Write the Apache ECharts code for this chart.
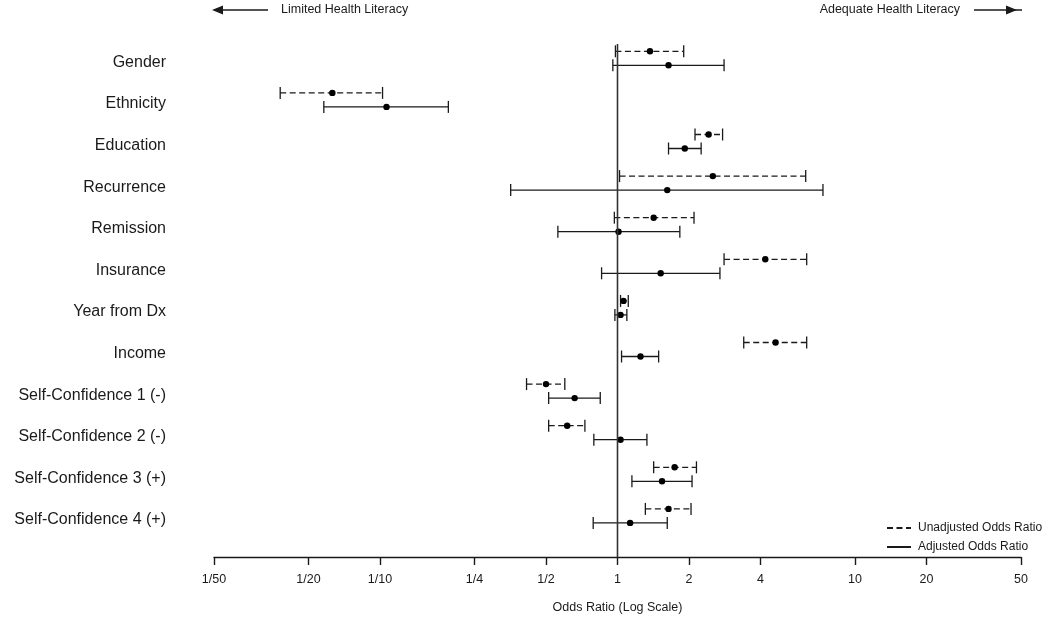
<!DOCTYPE html>
<html>
<head>
<meta charset="utf-8">
<script src="https://cdn.jsdelivr.net/npm/echarts@6/dist/echarts.min.js"></script>
<style>
html,body{margin:0;padding:0;background:#fff;}
#chart{width:1050px;height:619px;}
</style>
</head>
<body>
<div id="chart"></div>
<script>
const categories = ['Gender','Ethnicity','Education','Recurrence','Remission','Insurance','Year from Dx','Income','Self-Confidence 1 (-)','Self-Confidence 2 (-)','Self-Confidence 3 (+)','Self-Confidence 4 (+)'];

const unadjOR = [1.37, 0.063, 2.42, 2.52, 1.42, 4.19, 1.06, 4.63, 0.50, 0.614, 1.74, 1.64];
const unadjLo = [0.98, 0.038, 2.12, 1.02, 0.97, 2.81, 1.03, 3.40, 0.414, 0.513, 1.42, 1.31];
const unadjHi = [1.90, 0.1025, 2.77, 6.2, 2.10, 6.26, 1.11, 6.26, 0.60, 0.729, 2.15, 2.04];

const adjOR = [1.64, 0.1065, 1.92, 1.62, 1.01, 1.52, 1.03, 1.25, 0.66, 1.03, 1.54, 1.13];
const adjLo = [0.956, 0.058, 1.64, 0.355, 0.561, 0.857, 0.975, 1.04, 0.513, 0.795, 1.15, 0.79];
const adjHi = [2.81, 0.194, 2.25, 7.33, 1.83, 2.70, 1.095, 1.49, 0.846, 1.33, 2.06, 1.62];

const tickValues = [1/50, 1/20, 1/10, 1/4, 1/2, 1, 2, 4, 10, 20, 50];
const tickLabels = ['1/50','1/20','1/10','1/4','1/2','1','2','4','10','20','50'];

const ln = Math.log;
const INK = '#1a1a1a';
const NARROW = "'Liberation Sans Narrow','Arial Narrow','Liberation Sans',Arial,sans-serif";
const SANS = "'Liberation Sans',Arial,sans-serif";
const DASH = [6, 3.5];

function makeData(lo, or, hi) {
  return categories.map((c, i) => [ln(lo[i]), ln(or[i]), i, ln(hi[i])]);
}

function makeRender(dashed, dy) {
  return function (params, api) {
    const y = api.value(2);
    const a = api.coord([api.value(0), y]);
    const p = api.coord([api.value(1), y]);
    const b = api.coord([api.value(3), y]);
    const yy = a[1] + dy;
    const cap = 6;
    const lw = 1.3;
    return {
      type: 'group',
      children: [
        { type: 'line', shape: { x1: a[0], y1: yy, x2: b[0], y2: yy },
          style: { stroke: INK, lineWidth: lw, lineDash: dashed ? DASH : null } },
        { type: 'line', shape: { x1: a[0], y1: yy - cap, x2: a[0], y2: yy + cap },
          style: { stroke: INK, lineWidth: lw } },
        { type: 'line', shape: { x1: b[0], y1: yy - cap, x2: b[0], y2: yy + cap },
          style: { stroke: INK, lineWidth: lw } },
        { type: 'circle', shape: { cx: p[0], cy: yy, r: 3.2 },
          style: { fill: '#000' } }
      ]
    };
  };
}

const chart = echarts.init(document.getElementById('chart'), null, { renderer: 'canvas' });

const option = {
  animation: false,
  backgroundColor: '#fff',
  grid: { left: 214, right: 29, top: 16.2, bottom: 56, containLabel: false },
  xAxis: {
    type: 'value',
    min: ln(1/50),
    max: ln(50),
    position: 'bottom',
    axisLine: { onZero: false, lineStyle: { color: INK, width: 1.4 } },
    axisTick: { show: true, length: 8, inside: false, customValues: tickValues.map(ln),
      lineStyle: { color: INK, width: 1.4 } },
    axisLabel: {
      customValues: tickValues.map(ln),
      margin: 16,
      color: INK,
      fontSize: 12.5,
      fontFamily: NARROW,
      formatter: function (v) {
        let best = 0, bd = Infinity;
        tickValues.forEach((t, i) => { const d = Math.abs(ln(t) - v); if (d < bd) { bd = d; best = i; } });
        return tickLabels[best];
      }
    },
    splitLine: { show: false },
    name: 'Odds Ratio (Log Scale)',
    nameLocation: 'middle',
    nameGap: 44,
    nameTextStyle: { color: INK, fontSize: 12.5, fontFamily: NARROW }
  },
  yAxis: {
    type: 'value',
    inverse: true,
    min: -1,
    max: 12,
    interval: 1,
    axisLine: { show: false },
    axisTick: { show: false },
    splitLine: { show: false },
    axisLabel: {
      margin: 48,
      color: INK,
      fontSize: 16,
      fontFamily: SANS,
      formatter: function (v) { return categories[v] ? '{l|' + categories[v] + '}' : ''; },
      rich: {
        l: { fontSize: 16, fontFamily: SANS, color: INK, padding: [9, 0, 0, 0] }
      }
    }
  },
  legend: {
    orient: 'vertical',
    left: 881,
    top: 517,
    itemWidth: 24,
    itemHeight: 10,
    itemGap: 7,
    itemStyle: { opacity: 0 },
    data: ['Unadjusted Odds Ratio', 'Adjusted Odds Ratio'],
    textStyle: { color: INK, fontSize: 12, fontFamily: SANS, padding: [0, 0, 0, 2] }
  },
  series: [
    {
      name: 'Unadjusted Odds Ratio', type: 'line', data: [], symbol: 'none',
      lineStyle: { color: INK, width: 1.3, type: DASH }, itemStyle: { color: INK }
    },
    {
      name: 'Adjusted Odds Ratio', type: 'line', data: [], symbol: 'none',
      lineStyle: { color: INK, width: 1.3, type: 'solid' }, itemStyle: { color: INK }
    },
    {
      name: 'refLine', type: 'line', symbol: 'none', silent: true,
      data: [[0, -0.33], [0, 12]],
      lineStyle: { color: '#333', width: 1.6 }
    },
    {
      name: 'unadj', type: 'custom', renderItem: makeRender(true, -6.5),
      encode: { x: [0, 1, 3], y: 2 },
      data: makeData(unadjLo, unadjOR, unadjHi), z: 3
    },
    {
      name: 'adj', type: 'custom', renderItem: makeRender(false, 7.5),
      encode: { x: [0, 1, 3], y: 2 },
      data: makeData(adjLo, adjOR, adjHi), z: 3
    }
  ],
  graphic: [
    { type: 'line', shape: { x1: 220, y1: 10, x2: 268, y2: 10 }, style: { stroke: INK, lineWidth: 1.4 } },
    { type: 'polygon', shape: { points: [[212, 10], [223, 5.5], [223, 14.5]] }, style: { fill: INK } },
    { type: 'text', left: 281, top: 3, style: { text: 'Limited Health Literacy', fill: INK, font: '12.5px ' + NARROW } },
    { type: 'text', right: 1050 - 960, top: 3, style: { text: 'Adequate Health Literacy', fill: INK, font: '12.5px ' + NARROW } },
    { type: 'line', shape: { x1: 974, y1: 10, x2: 1022, y2: 10 }, style: { stroke: INK, lineWidth: 1.4 } },
    { type: 'polygon', shape: { points: [[1017, 10], [1006, 5.5], [1006, 14.5]] }, style: { fill: INK } }
  ]
};

chart.setOption(option);
</script>
</body>
</html>
